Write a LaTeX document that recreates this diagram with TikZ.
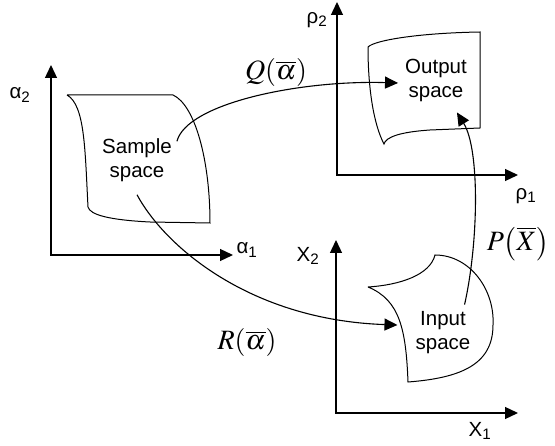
\documentclass[tikz,border=0pt]{standalone}
\usepackage{mathptmx}
\usepackage[no-math]{fontspec}
\setmainfont{Liberation Sans}
\usetikzlibrary{arrows.meta}

\begin{document}
\begin{tikzpicture}[x=1pt,y=-1pt,
  region/.style={line width=1pt},
  axis/.style={line width=1.3pt,{Triangle[length=13pt,width=12pt]}-{Triangle[length=13pt,width=12pt]}},
  map/.style={line width=1.1pt,-{Triangle[length=13pt,width=12pt]}},
  txt/.style={font=\fontsize{20.5}{24}\selectfont,align=center,inner sep=3pt},
  lab/.style={font=\fontsize{28}{32}\selectfont,inner sep=1pt}]

  \useasboundingbox (0,0) rectangle (555,446);

  % axes
  \coordinate (a2) at (51,65);
  \coordinate (a1) at (233,255);
  \coordinate (r2) at (337,2);
  \coordinate (r1) at (518,175);
  \coordinate (x2) at (336,240);
  \coordinate (x1) at (518,413);
  \draw [axis] (a2) |- (a1);
  \draw [axis] (r2) |- (r1);
  \draw [axis] (x2) |- (x1);

  \node [txt] (a2l) at (20,95) {α\textsubscript{2}};
  \node [txt] (a1l) at (247,250) {α\textsubscript{1}};
  \node [txt] (r2l) at (317,20) {ρ\textsubscript{2}};
  \node [txt] (r1l) at (526,196) {ρ\textsubscript{1}};
  \node [txt] (x2l) at (308,256) {X\textsubscript{2}};
  \node [txt] (x1l) at (480,431) {X\textsubscript{1}};

  % the three spaces
  \draw [region] (67,95) -- (173,95) .. controls (195,105) and (210,160) .. (210,223)
    -- (150,222) .. controls (110,220) and (90,215) .. (88,207)
    .. controls (85,150) and (85,105) .. (67,95);
  \draw [region] (368,47) .. controls (375,40) and (420,33) .. (480,32) -- (480,128)
    -- (430,130) .. controls (400,132) and (386,137) .. (384,144)
    .. controls (374,125) and (368,90) .. (368,47);
  \draw [region] (368,287) .. controls (400,285) and (430,275) .. (435,255)
    .. controls (470,255) and (495,290) .. (493,325)
    .. controls (493,365) and (460,378) .. (408,382)
    .. controls (406,330) and (400,300) .. (368,287);

  \node [txt] (sam) at (137,160) {Sample\\space};
  \node [txt] (out) at (436,80) {Output\\space};
  \node [txt] (inp) at (443,333) {Input\\space};

  % mappings
  \draw [map] ([shift={(2,6)}]sam.north east) .. controls +(10,-38) and +(-98,-3) .. ([shift={(-4,3)}]out.west);
  \draw [map] ([shift={(0,10)}]sam.south) .. controls +(28,52) and +(-147,-5) .. ([shift={(-15,-8)}]inp.west);
  \draw [map] ([shift={(-9,-4)}]inp.north east) .. controls +(14,-62) and +(23,37) .. ([shift={(-13,8)}]out.south east);

  \node [lab] (qlab) at (276,73) {$Q\!\left(\overline{\alpha}\right)$};
  \node [lab] (rlab) at (247,343) {$R\!\left(\overline{\alpha}\right)$};
  \node [lab] (plab) at (518,244) {$P\!\left(\overline{X}\right)$};
\end{tikzpicture}
\end{document}
